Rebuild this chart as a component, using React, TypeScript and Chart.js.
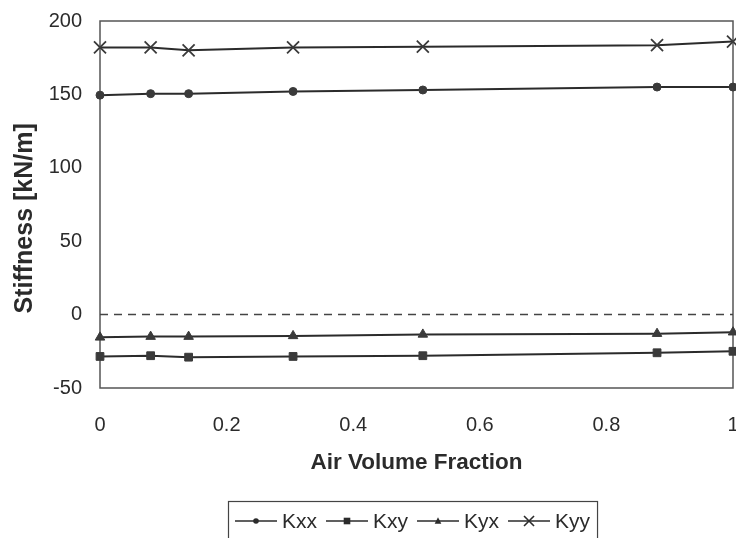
import React, { useEffect, useRef } from "react";
import { Chart, registerables } from "chart.js";

Chart.register(...registerables);

const airFraction = [0, 0.08, 0.14, 0.305, 0.51, 0.88, 1];
const kxx = [149.5, 150.5, 150.5, 152, 153, 155, 155];
const kxy = [-28.5, -28, -29, -28.5, -28, -26, -25];
const kyx = [-15.5, -15, -15, -14.5, -13.5, -13, -12];
const kyy = [182, 182, 180, 182, 182.5, 183.5, 186];
const zeroLine = [0, 0];
const zeroX = [0, 1];
const xTicks = [0, 0.2, 0.4, 0.6, 0.8, 1];
const seriesNames = ["Kxx", "Kxy", "Kyx", "Kyy"];

const FONT = "'Liberation Sans', Arial, sans-serif";
const INK = "#2b2b2b";

const toPts = (xs: number[], ys: number[]) => xs.map((x, i) => ({ x, y: ys[i] }));

function drawMarker(ctx: CanvasRenderingContext2D, style: string, x: number, y: number, r: number) {
  ctx.beginPath();
  if (style === "circle") {
    ctx.arc(x, y, r, 0, Math.PI * 2);
    ctx.fill();
  } else if (style === "rect") {
    ctx.rect(x - r, y - r, 2 * r, 2 * r);
    ctx.fill();
  } else if (style === "triangle") {
    ctx.moveTo(x, y - r * 1.1);
    ctx.lineTo(x + r, y + r * 0.8);
    ctx.lineTo(x - r, y + r * 0.8);
    ctx.closePath();
    ctx.fill();
  } else if (style === "crossRot") {
    ctx.moveTo(x - r, y - r);
    ctx.lineTo(x + r, y + r);
    ctx.moveTo(x + r, y - r);
    ctx.lineTo(x - r, y + r);
    ctx.stroke();
  }
}

const framePlugin = {
  id: "frame",
  beforeDatasetsDraw(chart: any) {
    const { ctx, chartArea: a } = chart;
    ctx.save();
    ctx.strokeStyle = "#555";
    ctx.lineWidth = 1.5;
    ctx.strokeRect(a.left, a.top, a.right - a.left, a.bottom - a.top);
    ctx.restore();
  },
};

const legendPlugin = {
  id: "boxLegend",
  afterDraw(chart: any) {
    const { ctx } = chart;
    const ds = chart.data.datasets.filter((d: any) => seriesNames.includes(d.label));
    ctx.save();
    ctx.font = `21px ${FONT}`;
    const lineW = 42;
    const gapText = 5;
    const gapItem = 9;
    let total = 0;
    ds.forEach((d: any, i: number) => {
      total += lineW + gapText + ctx.measureText(d.label).width + (i < ds.length - 1 ? gapItem : 0);
    });
    const boxPad = 7;
    const boxL = 228;
    const boxW = total + boxPad * 2;
    const cy = 521;
    ctx.strokeStyle = "#444";
    ctx.lineWidth = 1.2;
    ctx.strokeRect(boxL + 0.5, 501.5, boxW, 50);
    let x = boxL + boxPad;
    ds.forEach((d: any) => {
      ctx.strokeStyle = INK;
      ctx.fillStyle = INK;
      ctx.lineWidth = 1.6;
      ctx.beginPath();
      ctx.moveTo(x, cy);
      ctx.lineTo(x + lineW, cy);
      ctx.stroke();
      const st = d.pointStyle;
      const r = st === "crossRot" ? 5 : st === "circle" ? 2.8 : 3.3;
      drawMarker(ctx, st, x + lineW / 2, cy, r);
      x += lineW + gapText;
      ctx.fillStyle = INK;
      ctx.textBaseline = "middle";
      ctx.textAlign = "left";
      ctx.fillText(d.label, x, cy + 1);
      x += ctx.measureText(d.label).width + gapItem;
    });
    ctx.restore();
  },
};

export default function App() {
  const ref = useRef<HTMLCanvasElement | null>(null);
  useEffect(() => {
    if (!ref.current) return;
    const common = {
      borderColor: INK,
      backgroundColor: INK,
      pointBackgroundColor: "#3a3a3a",
      pointBorderColor: "#3a3a3a",
      borderWidth: 2,
      showLine: true,
      tension: 0,
      fill: false,
      clip: false,
    };
    const chart = new Chart(ref.current, {
      type: "scatter",
      data: {
        datasets: [
          { ...common, label: "Kxx", data: toPts(airFraction, kxx), pointStyle: "circle", pointRadius: 4, pointBorderWidth: 1 },
          { ...common, label: "Kxy", data: toPts(airFraction, kxy), pointStyle: "rect", pointRadius: 5.5, pointBorderWidth: 1 },
          { ...common, label: "Kyx", data: toPts(airFraction, kyx), pointStyle: "triangle", pointRadius: 5.5, pointBorderWidth: 1 },
          { ...common, label: "Kyy", data: toPts(airFraction, kyy), pointStyle: "crossRot", pointRadius: 8.5, pointBorderWidth: 1.8 },
          {
            label: "zero",
            data: toPts(zeroX, zeroLine),
            showLine: true,
            borderColor: "#444",
            borderWidth: 1.5,
            borderDash: [8, 6],
            pointRadius: 0,
            fill: false,
          },
        ],
      },
      options: {
        animation: false,
        responsive: true,
        maintainAspectRatio: false,
        layout: { padding: { top: 21, right: 27, bottom: 56, left: 0 } },
        plugins: {
          legend: { display: false },
          tooltip: { enabled: false },
        },
        scales: {
          x: {
            type: "linear",
            min: 0,
            max: 1,
            afterBuildTicks: (s: any) => {
              s.ticks = xTicks.map((v) => ({ value: v }));
            },
            afterFit: (s: any) => {
              s.height = 94;
              s.paddingLeft = 0;
              s.paddingRight = 0;
            },
            grid: { display: false, drawTicks: false },
            border: { display: false },
            ticks: {
              padding: 25,
              color: INK,
              font: { family: FONT, size: 20 },
              callback: (v: any) => String(Math.round(Number(v) * 10) / 10),
            },
            title: {
              display: true,
              text: "Air Volume Fraction",
              color: INK,
              font: { family: FONT, size: 22.5, weight: "bold" },
              padding: { top: 4, bottom: 6 },
            },
          },
          y: {
            min: -50,
            max: 200,
            afterFit: (s: any) => {
              s.width = 100;
              s.paddingTop = 0;
              s.paddingBottom = 0;
            },
            grid: { display: false, drawTicks: false },
            border: { display: false },
            ticks: {
              stepSize: 50,
              padding: 18,
              color: INK,
              font: { family: FONT, size: 20 },
            },
            title: {
              display: true,
              text: "Stiffness [kN/m]    ",
              color: INK,
              font: { family: FONT, size: 25, weight: "bold" },
              padding: { top: 10, bottom: 4 },
            },
          },
        },
      },
      plugins: [framePlugin, legendPlugin],
    } as any);
    return () => chart.destroy();
  }, []);
  return (
    <div style={{ position: "absolute", left: 0, top: 0, width: 736, height: 538, overflow: "hidden", background: "#fff" }}>
      <div style={{ position: "relative", width: 760, height: 538 }}>
        <canvas ref={ref} />
      </div>
    </div>
  );
}
